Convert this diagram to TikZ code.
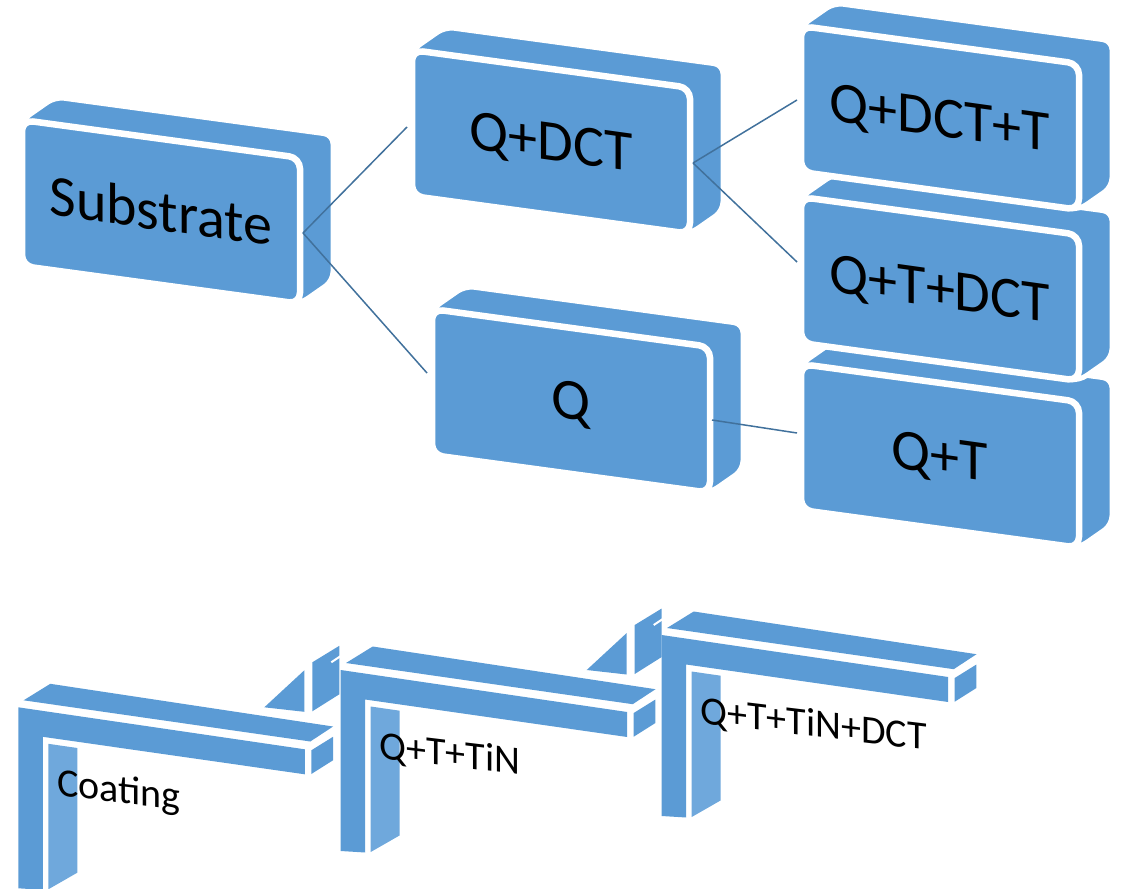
\documentclass[tikz,border=0pt]{standalone}
\usepackage{fontspec}
\setmainfont{Carlito}
\definecolor{boxblue}{HTML}{5B9BD5}
\definecolor{innerblue}{HTML}{6FA8DC}
\definecolor{linkblue}{HTML}{41719C}
\tikzset{
  boxlabel/.style={font=\fontsize{58}{60}\selectfont, yslant=-0.14, inner sep=0pt, text height=37pt, text depth=0pt},
  steplabel/.style={font=\fontsize{40}{42}\selectfont, yslant=-0.12, inner sep=0pt, anchor=base west},
  link/.style={draw=linkblue, line width=1.5pt},
  solid face/.style={fill=boxblue},
  inner face/.style={fill=innerblue}
}
% name, x, y (front outline top-left), w, h, text
\newcommand\cubebox[6]{%
  \filldraw[fill=boxblue, draw=white, line width=5pt, rounded corners=9pt]
    (#2,#3) -- ++(33,-23) -- ({#2+#4+33},{#3+0.136*#4-23}) -- ({#2+#4+33},{#3+0.136*#4+#5-23})
    -- ({#2+#4},{#3+0.136*#4+#5}) -- (#2,{#3+#5}) -- cycle;
  \filldraw[fill=boxblue, draw=white, line width=6.5pt, rounded corners=11pt]
    (#2,#3) -- ({#2+#4},{#3+0.136*#4}) -- ({#2+#4},{#3+0.136*#4+#5}) -- (#2,{#3+#5}) -- cycle;
  \node[boxlabel] (#1) at ({#2+#4/2},{#3+0.068*#4+#5/2}) {#6};
}
% name, x, y (front top-left), label
\newcommand\bendstep[4]{%
  \begin{scope}[shift={(#2,#3)}]
    \fill[solid face] (0,0) -- (286.5,42) -- (286.5,67) -- (24.5,29.5) -- (24.5,182.5) -- (0,181) -- cycle;
    \fill[solid face] (5.3,-7) -- (32,-23.5) -- (314.8,19.2) -- (292,34.2) -- cycle;
    \fill[solid face] (293,43) -- (314.7,29.5) -- (314.7,53) -- (293,66.7) -- cycle;
    \fill[inner face] (30,36.5) -- (59,40.7) -- (59,165.4) -- (30,182) -- cycle;
    \node[steplabel] (#1) at (38.5,88) {#4};
  \end{scope}
}
% x, y of the step's front top-left: hidden pieces before the next step
\newcommand\stepjoint[2]{%
  \begin{scope}[shift={(#1,#2)}]
    \fill[solid face] (246,0) -- (286,-37) -- (286,4.5) -- cycle;
    \fill[solid face] (294,4) -- (294,-45) -- (321,-61.5) -- (321,-13) -- cycle;
    \draw[white, line width=2pt] (313,-45) -- (322,-51);
  \end{scope}
}
\begin{document}
\begin{tikzpicture}[x=1pt, y=-1pt]
  \useasboundingbox (0,0) rectangle (1122,889);
  % upper tree
  \cubebox{sub}{22}{120}{278}{146}{Substrate}
  \cubebox{qdct}{412}{50}{278}{146}{Q+DCT}
  \cubebox{q}{432}{309}{278}{146}{Q}
  \cubebox{qt}{801}{364}{278}{146}{Q+T}
  \cubebox{qtdct}{801}{197}{278}{146}{Q+T+DCT}
  \cubebox{qdctt}{801}{26}{278}{146}{Q+DCT+T}
  \coordinate (sub-e) at (303,233);
  \coordinate (qdct-w) at (407,127);
  \coordinate (q-w) at (427,373);
  \coordinate (qdct-e) at (693,163);
  \coordinate (qdctt-w) at (797,100);
  \coordinate (qtdct-w) at (797,262);
  \coordinate (q-e) at (712,420);
  \coordinate (qt-w) at (797,433);
  \draw[link] (sub-e) -- (qdct-w);
  \draw[link] (sub-e) -- (q-w);
  \draw[link] (qdct-e) -- (qdctt-w);
  \draw[link] (qdct-e) -- (qtdct-w);
  \draw[link] (q-e) -- (qt-w);
  % lower process
  \stepjoint{18.3}{707.3}
  \stepjoint{340.7}{670}
  \bendstep{coat}{18.3}{707.3}{Coating}
  \bendstep{qttin}{340.7}{670}{Q+T+TiN}
  \bendstep{qttindct}{661.7}{635}{Q+T+TiN+DCT}
\end{tikzpicture}
\end{document}
